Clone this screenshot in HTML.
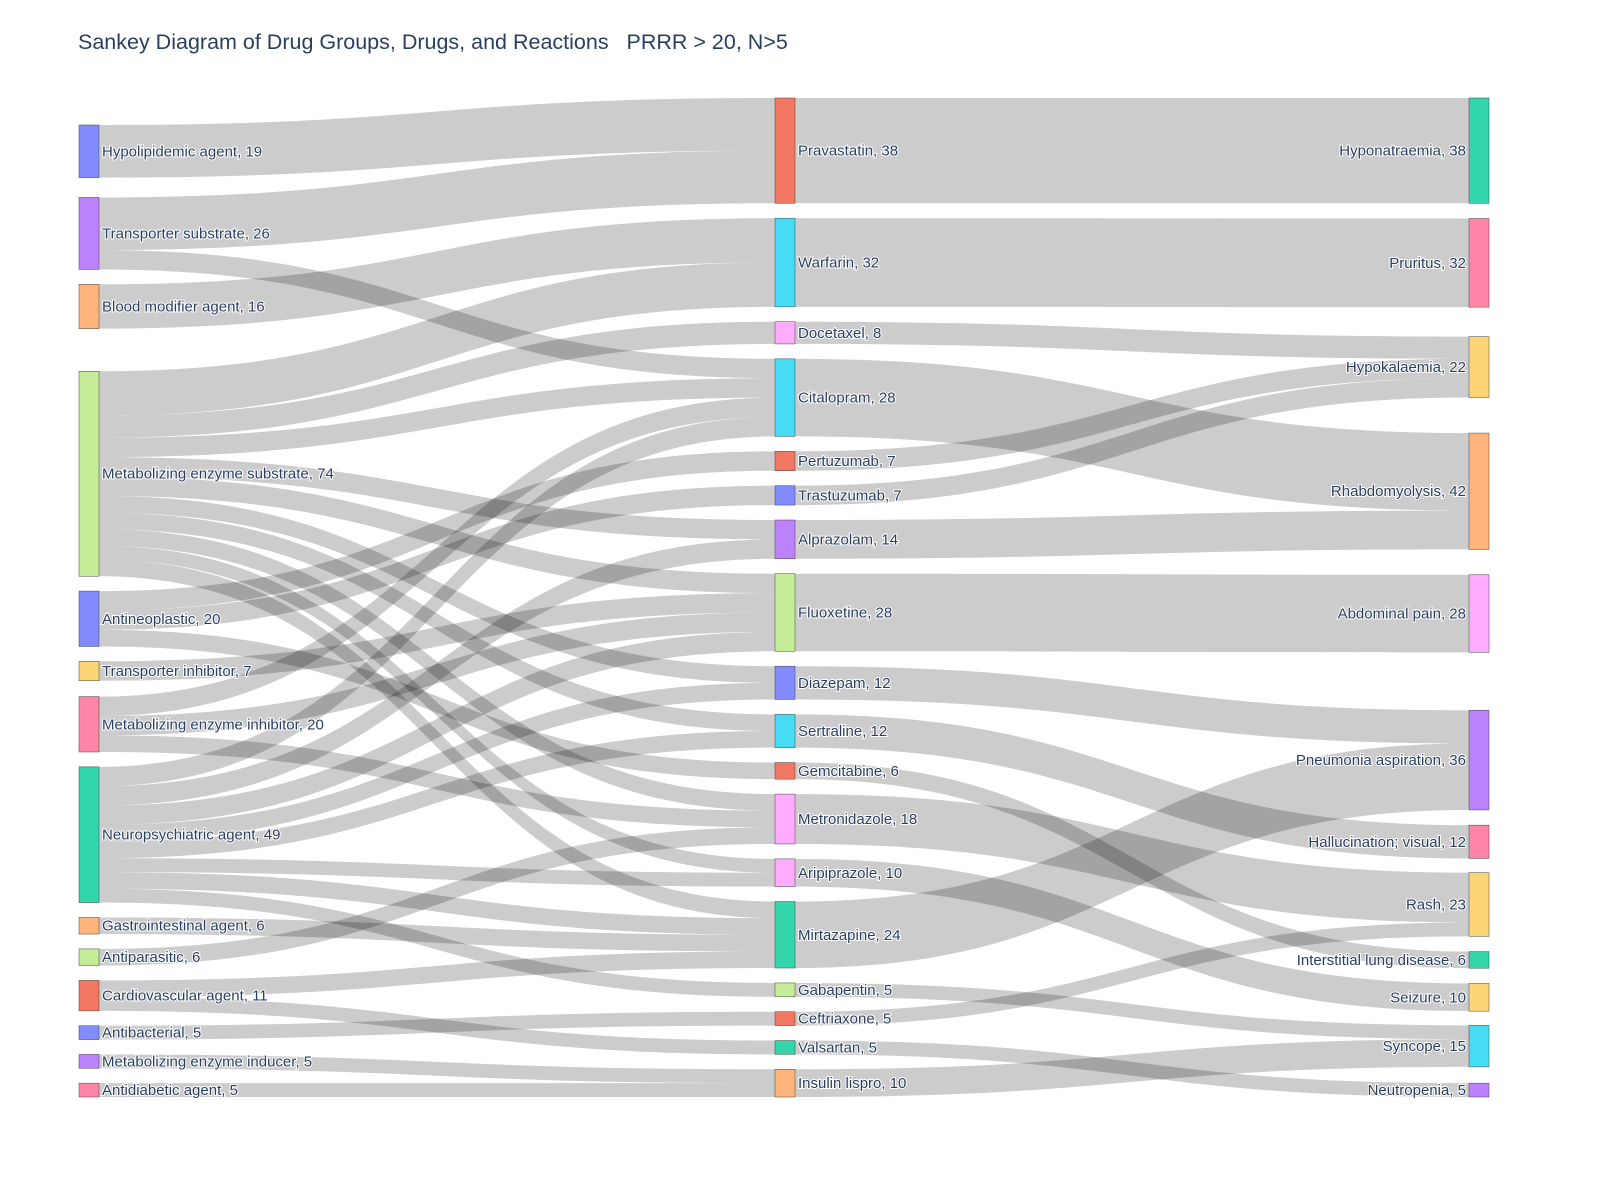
<!DOCTYPE html>
<html><head><meta charset="utf-8"><style>
body{margin:0;background:#fff;}
svg{display:block;font-family:"Liberation Sans",sans-serif;}
</style></head><body>
<svg id="chart" width="1600" height="1200" viewBox="0 0 1600 1200">
<rect width="1600" height="1200" fill="#fff"/>
<text x="78" y="49" font-size="21.5" fill="#2a3f5f" style="white-space:pre" xml:space="preserve">Sankey Diagram of Drug Groups, Drugs, and Reactions   PRRR &gt; 20, N&gt;5</text>
<g id="links"></g>
<g id="nodes"></g>
</svg>
<script>
// ---- data ----
const nodeLabels = ["Hypolipidemic agent","Transporter substrate","Blood modifier agent","Metabolizing enzyme substrate","Antineoplastic","Transporter inhibitor","Metabolizing enzyme inhibitor","Neuropsychiatric agent","Gastrointestinal agent","Antiparasitic","Cardiovascular agent","Antibacterial","Metabolizing enzyme inducer","Antidiabetic agent",
"Pravastatin","Warfarin","Docetaxel","Citalopram","Pertuzumab","Trastuzumab","Alprazolam","Fluoxetine","Diazepam","Sertraline","Gemcitabine","Metronidazole","Aripiprazole","Mirtazapine","Gabapentin","Ceftriaxone","Valsartan","Insulin lispro",
"Hyponatraemia","Pruritus","Hypokalaemia","Rhabdomyolysis","Abdominal pain","Pneumonia aspiration","Hallucination; visual","Rash","Interstitial lung disease","Seizure","Syncope","Neutropenia"];
const nodeColumn = [0,0,0,0,0,0,0,0,0,0,0,0,0,0, 1,1,1,1,1,1,1,1,1,1,1,1,1,1,1,1,1,1, 2,2,2,2,2,2,2,2,2,2,2,2];
const linkSource = [0,1,1,2,3,3,3,3,3,3,3,3,3,3,4,4,4,5,6,6,6,7,7,7,7,7,7,7,7,8,9,10,10,11,12,13,
14,15,16,17,18,19,20,21,22,23,24,25,26,27,28,29,30,31];
const linkTarget = [14,14,17,15,15,16,17,20,21,22,23,25,26,27,18,19,24,21,17,21,25,17,20,21,22,23,26,27,28,27,25,27,30,29,31,31,
32,33,34,35,34,34,35,36,37,38,40,39,41,37,42,39,43,42];
const linkValue = [19,19,7,16,16,8,7,7,7,6,6,6,5,6,7,7,6,7,7,7,6,7,7,7,6,6,5,6,5,6,6,6,5,5,5,5,
38,32,8,28,7,7,14,28,12,12,6,18,10,24,5,5,5,10];
// ---- style / layout ----
const palette = ["#636efa","#ab63fa","#ffa15a","#b6e880","#636efa","#fecb52","#ff6692","#00cc96","#ffa15a","#b6e880","#ef553b","#636efa","#ab63fa","#ff6692",
"#ef553b","#19d3f3","#ff97ff","#19d3f3","#ef553b","#636efa","#ab63fa","#b6e880","#636efa","#19d3f3","#ef553b","#ff97ff","#ff97ff","#00cc96","#b6e880","#ef553b","#00cc96","#ffa15a",
"#00cc96","#ff6692","#fecb52","#ffa15a","#ff97ff","#ab63fa","#ff6692","#fecb52","#00cc96","#fecb52","#19d3f3","#ab63fa"];
const colX = [79,775,1469];
const colTop = [125,98,98];
const colBottom = 1097;
const gapWeights = [
  [20,15,43,15,15,16,15,15,15,15,15,15,15],
  [1,1,1,1,1,1,1,1,1,1,1,1,1,1,1,1,1],
  [15,29,35,25,57,15,14,15,15,14,16]
];
const NW = 20, K = 2.77;

const N = nodeLabels.length;
const inV = new Array(N).fill(0), outV = new Array(N).fill(0);
linkValue.forEach((v,i)=>{outV[linkSource[i]]+=v; inV[linkTarget[i]]+=v;});
const val = nodeLabels.map((_,i)=>Math.max(inV[i],outV[i]));
const y0 = new Array(N), h = new Array(N);
[0,1,2].forEach(c=>{
  const ids = nodeLabels.map((_,i)=>i).filter(i=>nodeColumn[i]===c);
  const tot = ids.reduce((s,i)=>s+val[i]*K,0);
  const gw = gapWeights[c], gs = gw.reduce((a,b)=>a+b,0);
  const avail = colBottom - colTop[c] - tot;
  let y = colTop[c];
  ids.forEach((i,j)=>{ if(j>0) y += gw[j-1]/gs*avail; y0[i]=y; h[i]=val[i]*K; y+=h[i]; });
});
const cy = i=>y0[i]+h[i]/2;
const outOff = new Array(N).fill(0), inOff = new Array(N).fill(0);
const ls = linkValue.map((_,i)=>i);
const sy = [], ty = [];
[...ls].sort((a,b)=>linkSource[a]-linkSource[b]||cy(linkTarget[a])-cy(linkTarget[b])).forEach(i=>{
  const s=linkSource[i]; sy[i]=y0[s]+outOff[s]; outOff[s]+=linkValue[i]*K;});
[...ls].sort((a,b)=>linkTarget[a]-linkTarget[b]||cy(linkSource[a])-cy(linkSource[b])).forEach(i=>{
  const t=linkTarget[i]; ty[i]=y0[t]+inOff[t]; inOff[t]+=linkValue[i]*K;});
const NS="http://www.w3.org/2000/svg";
const gL=document.getElementById('links'), gN=document.getElementById('nodes');
ls.forEach(i=>{
  const s=linkSource[i], t=linkTarget[i], w=linkValue[i]*K;
  const xa=colX[nodeColumn[s]]+NW, xb=colX[nodeColumn[t]], xm=(xa+xb)/2;
  const p=document.createElementNS(NS,'path');
  p.setAttribute('d',`M${xa},${sy[i]}C${xm},${sy[i]} ${xm},${ty[i]} ${xb},${ty[i]}L${xb},${ty[i]+w}C${xm},${ty[i]+w} ${xm},${sy[i]+w} ${xa},${sy[i]+w}Z`);
  p.setAttribute('fill','rgba(0,0,0,0.2)');
  
  
  gL.appendChild(p);
});
for(let i=0;i<N;i++){
  const c=nodeColumn[i], x=colX[c];
  const slug=nodeLabels[i].toLowerCase().replace(/[^a-z]+/g,'-').replace(/-$/,'');
  const r=document.createElementNS(NS,'rect');
  r.setAttribute('x',x); r.setAttribute('y',y0[i]); r.setAttribute('width',NW); r.setAttribute('height',h[i]);
  r.setAttribute('fill',palette[i]); r.setAttribute('fill-opacity','0.8');
  r.setAttribute('stroke','#444'); r.setAttribute('stroke-width','0.5');
  
  
  gN.appendChild(r);
  const tx=document.createElementNS(NS,'text');
  tx.textContent=nodeLabels[i]+', '+val[i];
  tx.setAttribute('y',cy(i)+5); tx.setAttribute('font-size','15'); tx.setAttribute('fill','#2a3f5f');
  tx.setAttribute('style','paint-order:stroke;stroke:#fff;stroke-width:2px;');
  if(c===2){tx.setAttribute('x',x-3);tx.setAttribute('text-anchor','end');}
  else tx.setAttribute('x',x+NW+3);
  
  
  gN.appendChild(tx);
}
</script>
</body></html>
